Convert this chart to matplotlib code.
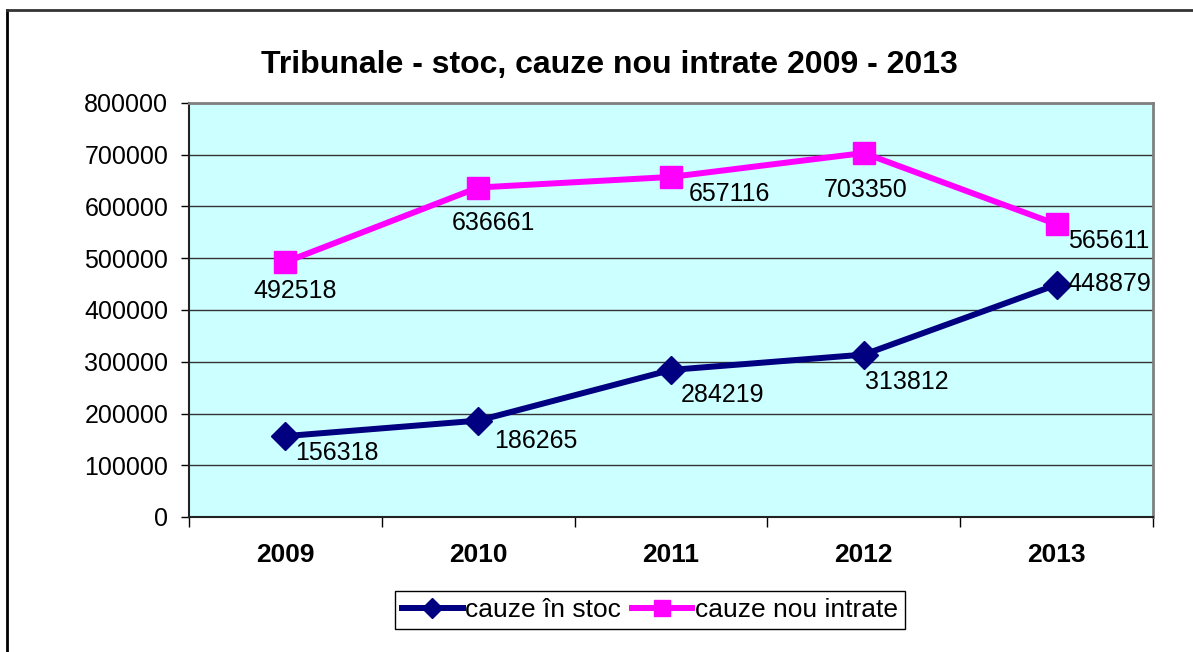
import matplotlib
matplotlib.use('Agg')
import matplotlib.pyplot as plt
from matplotlib.lines import Line2D

plt.rcParams['font.family'] = ['Liberation Sans', 'DejaVu Sans']

years = ['2009', '2010', '2011', '2012', '2013']
stoc = [156318, 186265, 284219, 313812, 448879]
intrate = [492518, 636661, 657116, 703350, 565611]

# label offsets in pixels (left edge of text, baseline) relative to the marker
stoc_off = [(10, -24), (16, -27), (10, -32), (1, -34), (11, -6)]
intrate_off = [(-32, -36), (-26, -42), (18, -24), (-40, -44), (11, -24)]

fig = plt.figure(figsize=(11.93, 6.52), dpi=100)
ax = fig.add_axes([189/1193, 1-517/652, (1153-189)/1193, (517-103)/652])
ax.set_facecolor('#CCFFFF')

x = list(range(len(years)))
l1, = ax.plot(x, stoc, color='#000080', linewidth=4.3, marker='D', markersize=14,
              label='cauze în stoc', zorder=4)
l2, = ax.plot(x, intrate, color='#FF00FF', linewidth=4.3, marker='s', markersize=16,
              label='cauze nou intrate', zorder=4)

for i in range(len(years)):
    ax.annotate(str(stoc[i]), (x[i], stoc[i]), xytext=stoc_off[i], textcoords='offset pixels',
                ha='left', va='baseline', fontsize=18, zorder=5)
    ax.annotate(str(intrate[i]), (x[i], intrate[i]), xytext=intrate_off[i], textcoords='offset pixels',
                ha='left', va='baseline', fontsize=18, zorder=5)

ax.set_xlim(-0.5, len(years) - 0.5)
ax.set_ylim(0, 800000)
ax.set_yticks(range(0, 800001, 100000))
ax.set_yticklabels([str(v) for v in range(0, 800001, 100000)], fontsize=18)
ax.tick_params(axis='y', length=6, width=1, pad=9, direction='out')
ax.yaxis.grid(True, color='#333333', linewidth=1)
ax.set_axisbelow(True)

ax.set_xticks([i - 0.5 for i in range(len(years) + 1)])
ax.set_xticklabels([])
ax.set_xticks(x, minor=True)
ax.set_xticklabels(years, minor=True, fontsize=19, fontweight='bold')
ax.tick_params(axis='x', which='major', length=7, width=1, direction='out')
ax.tick_params(axis='x', which='minor', length=0, pad=19)

for s in ['left', 'bottom']:
    ax.spines[s].set_color('#222222')
    ax.spines[s].set_linewidth(1.5)
for s in ['top', 'right']:
    ax.spines[s].set_color('#808080')
    ax.spines[s].set_linewidth(2)

fig.text(609/1193, 1-65/652, 'Tribunale - stoc, cauze nou intrate 2009 - 2013',
         ha='center', va='center', fontsize=23, fontweight='bold')

leg = fig.legend(handles=[l1, l2], loc='center', bbox_to_anchor=(650/1193, 1-610/652),
                 ncol=2, fontsize=19, frameon=True, fancybox=False, edgecolor='black',
                 framealpha=1, borderpad=0.25, handlelength=2.3, handletextpad=0.1,
                 columnspacing=0.4, markerscale=0.75)
leg.get_frame().set_linewidth(1)

# outer chart border (left and top visible)
fig.add_artist(Line2D([7/1193, 7/1193], [0, 1-10/652], color='black', linewidth=2, transform=fig.transFigure))
fig.add_artist(Line2D([7/1193, 1], [1-10/652, 1-10/652], color='#333333', linewidth=2, transform=fig.transFigure))

fig.savefig('out.png', dpi=100)
